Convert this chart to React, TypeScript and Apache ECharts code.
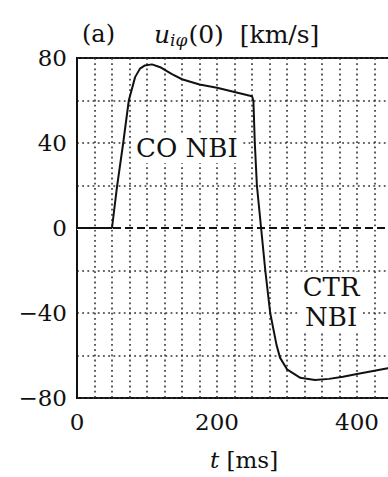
import React, { useEffect, useRef } from "react";
import * as echarts from "echarts";

const times = [0, 50, 57, 66, 74, 83, 90, 97, 107, 120, 135, 150, 175, 200, 225, 250, 252, 254, 257, 263, 269, 276, 285, 290, 300, 319, 340, 360, 380, 400, 444, 470];
const values = [0, 0, 19, 40, 60, 71, 75, 76.5, 77, 75.5, 72.5, 70, 67.5, 66, 64, 62, 60, 40, 20, 0, -20, -40, -55, -61, -66.5, -70.5, -71.5, -71, -70, -68.7, -66, -64.5];
const xTickLabels = [0, 200, 400];
const yTickLabels = [-80, -40, 0, 40, 80];
const annotations = [
  { text: "CO NBI", t: 157, v: 37.6 },
  { text: "CTR\nNBI", t: 363, v: -34.8 },
];

const FONT = "DejaVu Serif";
const INK = "#111";

export default function App() {
  const ref = useRef<HTMLDivElement>(null);
  useEffect(() => {
    if (!ref.current) return;
    const chart = echarts.init(ref.current, undefined, { renderer: "svg" });
    const fmtNum = (v: number) => (v < 0 ? "\u2212" + -v : String(v));
    const gridLine = { show: true, lineStyle: { color: "#333", width: 1.6, type: [1.8, 3.4] } };
    chart.setOption({
      animation: false,
      backgroundColor: "#fff",
      textStyle: { fontFamily: FONT },
      title: [
        {
          text: "(a)",
          left: 77,
          top: 17,
          textStyle: { fontFamily: FONT, fontSize: 24, fontWeight: "normal", color: INK },
        },
        {
          text: "{u|u}{s|iφ}{n|(0)  [km/s]}",
          left: 149,
          top: 16,
          textStyle: {
            fontFamily: FONT,
            fontSize: 25,
            fontWeight: "normal",
            color: INK,
            rich: {
              u: { fontFamily: FONT, fontSize: 25, fontStyle: "italic", color: INK },
              s: { fontFamily: FONT, fontSize: 17, fontStyle: "italic", color: INK, verticalAlign: "bottom", padding: [10, 1, 0, 0] },
              n: { fontFamily: FONT, fontSize: 25, color: INK },
            },
          },
        },
        {
          text: "{t|t}{n| [ms]}",
          left: 205,
          top: 443,
          textStyle: {
            fontFamily: FONT,
            fontSize: 23,
            fontWeight: "normal",
            color: INK,
            rich: {
              t: { fontFamily: FONT, fontSize: 23, fontStyle: "italic", color: INK },
              n: { fontFamily: FONT, fontSize: 23, color: INK },
            },
          },
        },
      ],
      grid: {
        left: 77,
        top: 58,
        width: 350,
        height: 340,
        show: true,
        borderColor: INK,
        borderWidth: 2,
        containLabel: false,
      },
      xAxis: {
        type: "value",
        min: 0,
        max: 500,
        interval: 25,
        axisLine: { show: true, lineStyle: { color: INK, width: 2 } },
        axisTick: { show: false },
        axisLabel: {
          margin: 12,
          fontFamily: FONT,
          fontSize: 23,
          color: INK,
          formatter: (v: number) => (xTickLabels.includes(v) ? fmtNum(v) : ""),
        },
        splitLine: gridLine,
      },
      yAxis: {
        type: "value",
        min: -80,
        max: 80,
        interval: 20,
        axisLine: { show: true, lineStyle: { color: INK, width: 2 } },
        axisTick: { show: false },
        axisLabel: {
          margin: 10,
          fontFamily: FONT,
          fontSize: 23,
          color: INK,
          formatter: (v: number) => (yTickLabels.includes(v) ? fmtNum(v) : ""),
        },
        splitLine: gridLine,
      },
      series: [
        {
          type: "line",
          data: [],
          z: 2,
          markLine: {
            silent: true,
            symbol: "none",
            z: 2,
            label: { show: false },
            data: [
              { yAxis: 0, lineStyle: { color: "#fff", width: 3, type: "solid" } },
              { yAxis: 0, lineStyle: { color: INK, width: 2, type: [8, 4] } },
            ],
          },
        },
        {
          type: "line",
          data: times.map((t, i) => [t, values[i]]),
          showSymbol: false,
          symbol: "none",
          lineStyle: { color: INK, width: 2 },
          z: 10,
          markPoint: {
            symbol: "circle",
            symbolSize: 0,
            z: 11,
            itemStyle: { color: "transparent" },
            label: {
              show: true,
              position: "inside",
              fontFamily: FONT,
              fontSize: 26,
              lineHeight: 30,
              color: INK,
              backgroundColor: "#fff",
              padding: [0, 3],
              align: "center",
              formatter: (p: any) => p.name,
            },
            data: annotations.map((a) => ({ name: a.text, coord: [a.t, a.v] })),
          },
        },
      ],
    });
    return () => chart.dispose();
  }, []);
  return (
    <div style={{ position: "fixed", left: 0, top: 0, width: 388, height: 477, overflow: "hidden", background: "#fff" }}>
      <div ref={ref} style={{ width: 440, height: 477 }} />
    </div>
  );
}
